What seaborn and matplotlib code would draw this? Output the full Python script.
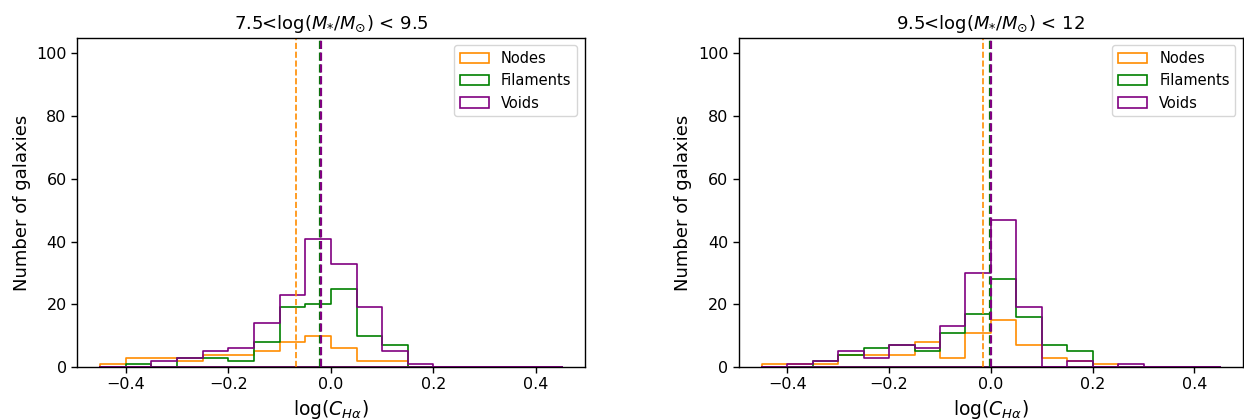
import numpy as np
import pandas as pd
import matplotlib
matplotlib.use("Agg")
import matplotlib.pyplot as plt
import seaborn as sns

# 18 bins of log(C_Halpha) between -0.45 and 0.45
bin_range = (-0.45, 0.45)
n_bins = 18

environments = ["Nodes", "Filaments", "Voids"]
env_colors = ["darkorange", "green", "purple"]

titles = [r"7.5<log($M_{*}/M_{\odot}$) < 9.5", r"9.5<log($M_{*}/M_{\odot}$) < 12"]

# counts per bin, low-mass panel
low_nodes = [1, 3, 3, 2, 4, 4, 5, 8, 10, 6, 2, 2, 0, 0, 0, 0, 0, 0]
low_filaments = [0, 1, 0, 3, 3, 2, 8, 19, 20, 25, 10, 7, 0, 0, 0, 0, 0, 0]
low_voids = [0, 0, 2, 3, 5, 6, 14, 23, 41, 33, 19, 5, 1, 0, 0, 0, 0, 0]

# counts per bin, high-mass panel
high_nodes = [1, 1, 1, 4, 4, 4, 8, 3, 11, 15, 7, 3, 2, 1, 0, 0, 0, 0]
high_filaments = [0, 0, 2, 4, 6, 7, 5, 11, 17, 28, 16, 7, 5, 0, 0, 0, 0, 0]
high_voids = [0, 1, 2, 5, 3, 7, 6, 13, 30, 47, 19, 0, 2, 0, 1, 0, 0, 0]

# median log(C_Halpha) per environment (dashed lines)
low_medians = [-0.068, -0.021, -0.019]
high_medians = [-0.016, -0.001, 0.001]

panels = [
    (titles[0], [low_nodes, low_filaments, low_voids], low_medians),
    (titles[1], [high_nodes, high_filaments, high_voids], high_medians),
]

sns.set_style("ticks")
plt.rcParams["font.family"] = ["DejaVu Sans"]
plt.rcParams["mathtext.fontset"] = "dejavusans"
for key in ["text.color", "axes.labelcolor", "xtick.color", "ytick.color", "axes.edgecolor"]:
    plt.rcParams[key] = "black"

fig = plt.figure(figsize=(12.44, 4.2), dpi=100)
ax_left = fig.add_axes([0.062, 0.126, 0.408, 0.784])
ax_right = fig.add_axes([0.594, 0.126, 0.405, 0.784])

width = (bin_range[1] - bin_range[0]) / n_bins
centers = bin_range[0] + width * (np.arange(n_bins) + 0.5)

for ax, (title, counts, medians) in zip([ax_left, ax_right], panels):
    for env, col, cnt in zip(environments, env_colors, counts):
        df = pd.DataFrame({"x": centers, "n": cnt})
        sns.histplot(data=df, x="x", weights="n", bins=n_bins, binrange=bin_range,
                     element="step", fill=True, facecolor="none", color=col,
                     linewidth=1.2, label=env, ax=ax)
    for med, col in zip(medians, env_colors):
        ax.axvline(med, color=col, linestyle="--", linewidth=1.2 if col == "darkorange" else 1.6)

    ax.set_ylim(0, 105)
    ax.set_xticks([-0.4, -0.2, 0.0, 0.2, 0.4])
    ax.set_yticks([0, 20, 40, 60, 80, 100])
    ax.tick_params(labelsize=11.5, direction="out", length=4, width=1)
    for sp in ax.spines.values():
        sp.set_linewidth(1)
    ax.set_title(title, fontsize=13)
    ax.set_xlabel(r"log($C_{H\alpha}$)", fontsize=13.5)
    ax.set_ylabel("Number of galaxies", fontsize=13)
    ax.legend(loc="upper right", fontsize=10.5)

fig.savefig("out.png", dpi=100)
